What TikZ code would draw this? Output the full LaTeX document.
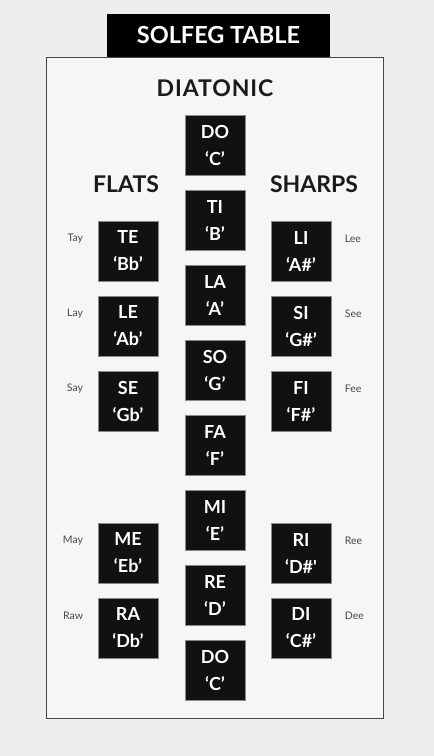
\documentclass[tikz,border=0pt]{standalone}
\usepackage{fontspec}
\setmainfont{Lato}
\usepackage{xcolor}
\usepackage{tikz}
\usetikzlibrary{
  positioning,
  backgrounds
}
\definecolor{paper}{HTML}{EEEEEE}
\definecolor{sheet}{HTML}{F6F6F6}
\definecolor{tile}{HTML}{111111}
\definecolor{tileedge}{HTML}{8A8A8A}
\definecolor{ink}{HTML}{1A1A1A}

\begin{document}
\begin{tikzpicture}[
  x=1pt, y=-1pt,
  note/.style={draw=tileedge, line width=0.8pt, fill=tile, text=white,
    minimum width=60pt, minimum height=60pt, inner sep=0pt, align=center,
    font=\fontsize{18}{27}\selectfont\bfseries},
  head/.style={font=\fontsize{23}{26}\selectfont\bfseries, text=ink},
  say/.style={font=\fontsize{10.5}{12}\selectfont, text=ink!80},
]
  % Page and frame
  \fill[paper] (0,0) rectangle (434,756);
  \draw[fill=sheet, draw=ink!80, line width=1pt] (46,57) rectangle (383,718);
  \node[fill=black, text=white, minimum width=223pt, minimum height=43pt,
    font=\fontsize{23.5}{26}\selectfont\bfseries] (title) at (218.5,35.5) {SOLFEG TABLE};

  % Headings
  \node[head] (diatonic) at (215,88) {\addfontfeature{LetterSpace=4}DIATONIC};
  \node[head] (flats) at (126,184) {FLATS};
  \node[head] (sharps) at (314,184) {SHARPS};

  % Diatonic column
  \node[note] (dohi) at (215,145) {DO\\`C'};
  \node[note] (ti) at (215,220) {TI\\`B'};
  \node[note] (la) at (215,295) {LA\\`A'};
  \node[note] (so) at (215,370) {SO\\`G'};
  \node[note] (fa) at (215,445) {FA\\`F'};
  \node[note] (mi) at (215,520) {MI\\`E'};
  \node[note] (re) at (215,595) {RE\\`D'};
  \node[note] (dolo) at (215,670) {DO\\`C'};

  % Flats column
  \node[note] (te) at (128,251) {TE\\`Bb'};
  \node[note] (le) at (128,326) {LE\\`Ab'};
  \node[note] (se) at (128,401) {SE\\`Gb'};
  \node[note] (me) at (128,553) {ME\\`Eb'};
  \node[note] (ra) at (128,628) {RA\\`Db'};

  % Sharps column
  \node[note] (li) at (301,251) {LI\\`A\#'};
  \node[note] (si) at (301,326) {SI\\`G\#'};
  \node[note] (fi) at (301,401) {FI\\`F\#'};
  \node[note] (ri) at (301,553) {RI\\`D\#\textquotesingle};
  \node[note] (di) at (301,628) {DI\\`C\#'};

  % Spoken syllables
  \node[say, left=11pt of te.west, yshift=12pt] (tay) {Tay};
  \node[say, left=11pt of le.west, yshift=12pt] (lay) {Lay};
  \node[say, left=11pt of se.west, yshift=12pt] (sayse) {Say};
  \node[say, left=11pt of me.west, yshift=12pt] (may) {May};
  \node[say, left=11pt of ra.west, yshift=12pt] (raw) {Raw};
  \node[say, right=10pt of li.east, yshift=12pt] (lee) {Lee};
  \node[say, right=10pt of si.east, yshift=12pt] (see) {See};
  \node[say, right=10pt of fi.east, yshift=12pt] (fee) {Fee};
  \node[say, right=10pt of ri.east, yshift=12pt] (ree) {Ree};
  \node[say, right=10pt of di.east, yshift=12pt] (dee) {Dee};
\end{tikzpicture}
\end{document}
